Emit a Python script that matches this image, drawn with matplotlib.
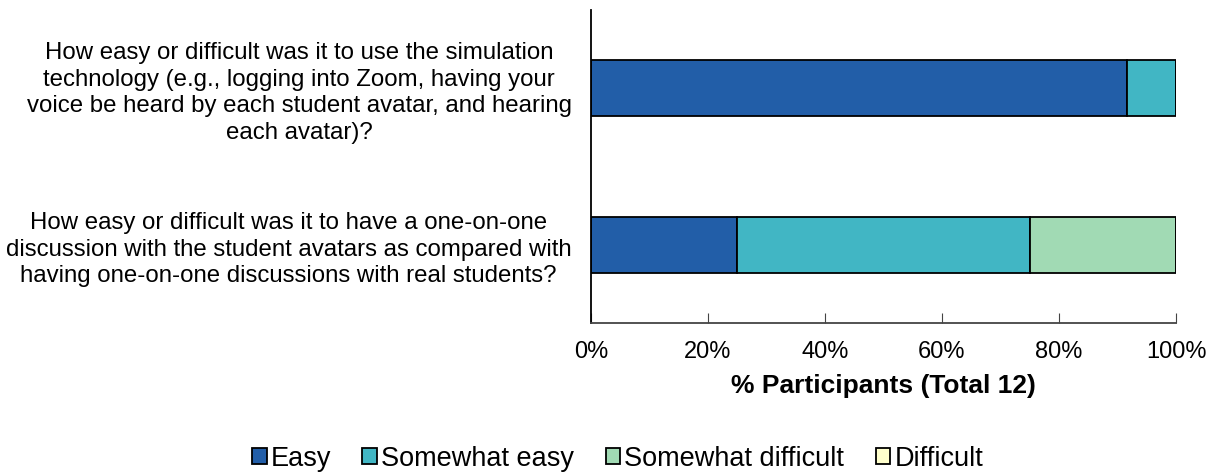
import matplotlib
matplotlib.use("Agg")
import matplotlib.pyplot as plt
from matplotlib.ticker import FuncFormatter

plt.rcParams['font.family'] = ['Liberation Sans', 'DejaVu Sans']

questions = [
    "How easy or difficult was it to use the simulation\ntechnology (e.g., logging into Zoom, having your\nvoice be heard by each student avatar, and hearing\neach avatar)?",
    "How easy or difficult was it to have a one-on-one\ndiscussion with the student avatars as compared with\nhaving one-on-one discussions with real students?",
]
categories = ["Easy", "Somewhat easy", "Somewhat difficult", "Difficult"]
easy = [91.67, 25.0]
somewhat_easy = [8.33, 50.0]
somewhat_difficult = [0.0, 25.0]
difficult = [0.0, 0.0]
colors = ["#225EA8", "#41B6C4", "#A1DAB4", "#FFFFCC"]

series = [easy, somewhat_easy, somewhat_difficult, difficult]

fig = plt.figure(figsize=(12.12, 4.73), dpi=100)
ax = fig.add_axes([0.4876, 0.3171, 0.4827, 0.662])

ypos = list(range(len(questions)))
left = [0.0] * len(questions)
for name, vals, col in zip(categories, series, colors):
    ax.barh(ypos, vals, left=left, height=0.36, color=col, edgecolor="black",
            linewidth=1.3, label=name)
    left = [l + v for l, v in zip(left, vals)]

ax.set_ylim(1.5, -0.5)
ax.set_xlim(0, 100)
ax.set_yticks(ypos)
ax.set_yticklabels(questions, fontsize=17.3, ha="right", multialignment="center",
                   linespacing=1.27)
ax.tick_params(axis="y", length=0, pad=14)
ax.set_xticks([0, 20, 40, 60, 80, 100])
ax.xaxis.set_major_formatter(FuncFormatter(lambda v, p: f"{int(v)}%"))
ax.tick_params(axis="x", direction="in", length=7, labelsize=17, pad=13, color="#444444")
for s in ["top", "right"]:
    ax.spines[s].set_visible(False)
ax.spines["left"].set_linewidth(1.3)
ax.spines["bottom"].set_linewidth(1.3)
ax.spines["bottom"].set_color("#444444")
ax.set_xlabel("% Participants (Total 12)", fontsize=19, fontweight="bold", labelpad=8)

fig.legend(loc="center", bbox_to_anchor=(0.5095, 0.03), ncol=4, frameon=False,
           fontsize=19.5, handlelength=0.55, handleheight=0.55, handletextpad=0.15,
           columnspacing=1.15)

fig.savefig("out.png", dpi=100)
